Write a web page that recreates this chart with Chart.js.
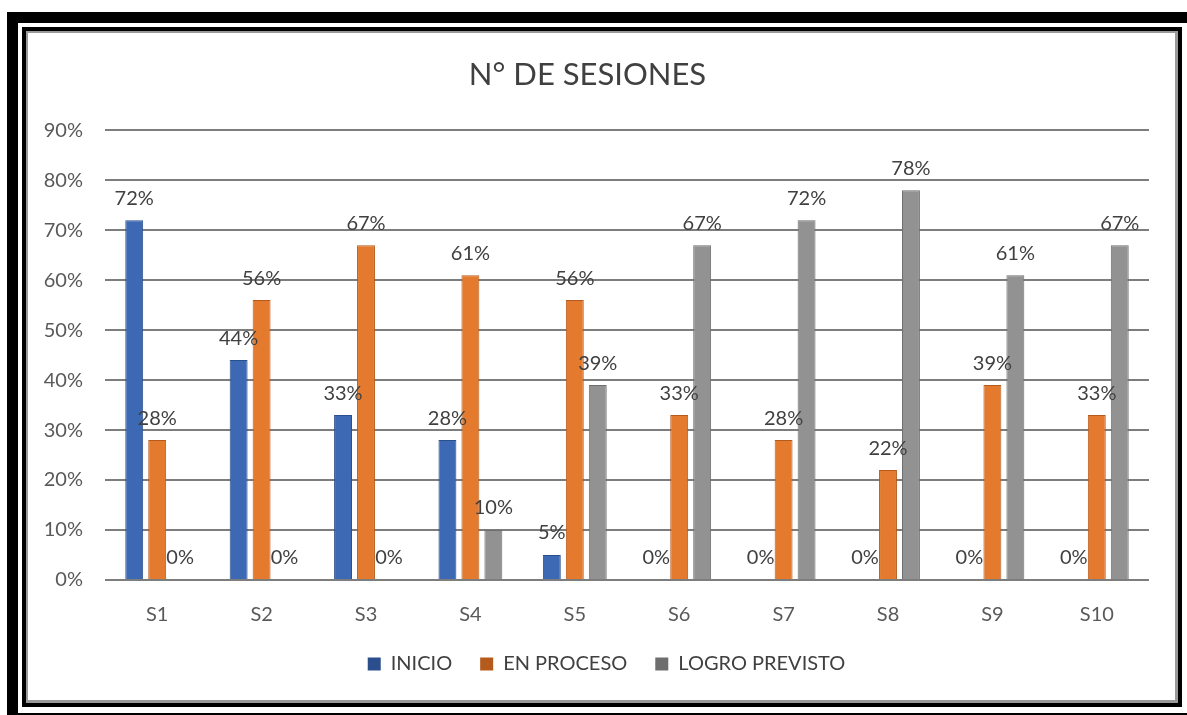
<!DOCTYPE html>
<html>
<head>
<meta charset="utf-8">
<script src="https://cdn.jsdelivr.net/npm/chart.js@4.4.1/dist/chart.umd.min.js"></script>
<style>
  html,body{margin:0;padding:0;background:#fff;width:1187px;height:715px;overflow:hidden;}
  .outer{position:absolute;left:7px;top:12px;width:1200px;height:690px;border-left:11px solid #000;border-top:11px solid #000;border-bottom:4px solid #000;}
  .inner{position:absolute;left:22px;top:27px;width:1152px;height:672px;border:4px solid #000;}
  .inner2{position:absolute;left:0;top:0;right:0;bottom:0;border:2px solid #9a9a9a;border-right-width:3px;border-bottom-width:3px;}
  canvas{position:absolute;left:0;top:0;}
</style>
</head>
<body>
<div class="outer"></div>
<div class="inner"><div class="inner2"></div></div>
<canvas id="c" width="1187" height="715"></canvas>
<script>
const categories = ["S1","S2","S3","S4","S5","S6","S7","S8","S9","S10"];
const inicio = [72,44,33,28,5,0,0,0,0,0];
const enProceso = [28,56,67,61,56,33,28,22,39,33];
const logroPrevisto = [0,0,0,10,39,67,72,78,61,67];
const yTicks = [0,10,20,30,40,50,60,70,80,90];
const seriesNames = ["INICIO","EN PROCESO","LOGRO PREVISTO"];

const FONT = "Lato, 'Open Sans', sans-serif";

const dataLabels = {
  id:'dataLabels',
  afterDatasetsDraw(chart){
    const ctx = chart.ctx;
    ctx.save();
    ctx.font = "20px " + FONT;
    ctx.fillStyle = "#404040";
    ctx.textAlign = "center";
    ctx.textBaseline = "middle";
    chart.data.datasets.forEach((ds,i)=>{
      const meta = chart.getDatasetMeta(i);
      meta.data.forEach((bar,j)=>{
        ctx.fillText(ds.data[j] + "%", bar.x, bar.y - 22);
      });
    });
    ctx.restore();
  }
};

// widen the y-axis label clip box to the left, and nudge the title box left
const layoutTweaks = {
  id:'layoutTweaks',
  afterLayout(chart){
    chart.scales.y.left = 0;
    if (chart.titleBlock){ chart.titleBlock.left -= 19; chart.titleBlock.right -= 19; }
  }
};

new Chart(document.getElementById('c'), {
  type:'bar',
  data:{
    labels:categories,
    datasets:[
      {label:seriesNames[0], data:inicio, backgroundColor:"#3D68B4", borderColor:"#2B4E8C", borderWidth:1},
      {label:seriesNames[1], data:enProceso, backgroundColor:"#E37A2E", borderColor:"#B55A1C", borderWidth:1},
      {label:seriesNames[2], data:logroPrevisto, backgroundColor:"#929292", borderColor:"#6E6E6E", borderWidth:1}
    ]
  },
  options:{
    responsive:false,
    animation:false,
    devicePixelRatio:1,
    categoryPercentage:0.66,
    barPercentage:0.78,
    layout:{padding:{left:64,right:38,top:0,bottom:31}},
    plugins:{
      title:{display:true,text:"N° DE SESIONES",color:"#404040",font:{family:FONT,size:31,weight:'normal'},padding:{top:56,bottom:37}},
      legend:{position:'bottom',labels:{color:"#404040",font:{family:FONT,size:20},boxWidth:13,boxHeight:13,padding:28,
        generateLabels(chart){
          return chart.data.datasets.map((ds,i)=>({text:ds.label,fillStyle:ds.borderColor,strokeStyle:ds.borderColor,lineWidth:0,datasetIndex:i,fontColor:"#404040"}));
        }}},
      tooltip:{enabled:false}
    },
    scales:{
      x:{grid:{display:false},border:{display:false},
         afterFit(s){s.height=46;},
         ticks:{color:"#595959",font:{family:FONT,size:20},padding:15,autoSkip:false,maxRotation:0}},
      y:{min:0,max:90,
         afterFit(s){s.width=41;},
         afterBuildTicks(s){s.ticks = yTicks.map(v=>({value:v}));},
         grid:{color:"#7d7d7d",lineWidth:2,drawTicks:false},
         border:{display:false},
         ticks:{color:"#595959",font:{family:FONT,size:20},padding:22,callback:v=>v+"%"}}
    }
  },
  plugins:[dataLabels, layoutTweaks]
});
</script>
</body>
</html>
